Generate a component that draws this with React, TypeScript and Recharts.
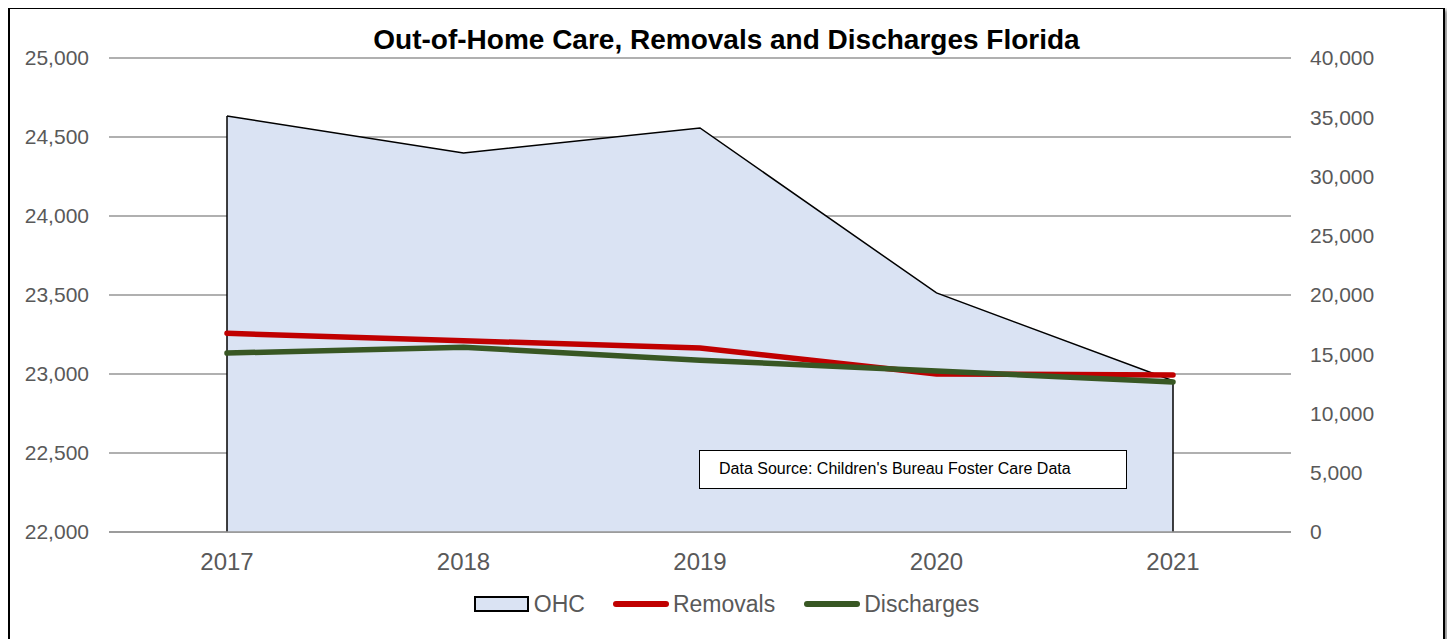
import {
  ComposedChart,
  Area,
  Line,
  XAxis,
  YAxis,
  CartesianGrid,
  ReferenceLine,
  Legend,
} from "recharts";

const years = ["2017", "2018", "2019", "2020", "2021"];
const ohc = [24633, 24399, 24557, 23513, 22957];
const removals = [16770, 16140, 15530, 13330, 13250];
const discharges = [15100, 15590, 14500, 13590, 12660];

const leftTicks = [22000, 22500, 23000, 23500, 24000, 24500, 25000];
const rightTicks = [0, 5000, 10000, 15000, 20000, 25000, 30000, 35000, 40000];

const data = years.map((year, i) => ({
  year,
  OHC: ohc[i],
  Removals: removals[i],
  Discharges: discharges[i],
}));

const FONT = "'Liberation Sans', Arial, sans-serif";
const GREY_TEXT = "#595959";
const OHC_FILL = "#DAE3F3";
const RED = "#C00000";
const GREEN = "#385723";

const fmt = (v: number) => v.toLocaleString("en-US");

const ChartLegend = () => (
  <div
    style={{
      display: "flex",
      alignItems: "center",
      justifyContent: "center",
      fontFamily: FONT,
      fontSize: 23,
      color: GREY_TEXT,
      height: 28,
    }}
  >
    <svg width={56} height={18} style={{ marginRight: 4 }}>
      <rect x={1} y={2} width={53} height={14} fill={OHC_FILL} stroke="#000" strokeWidth={2} />
    </svg>
    <span style={{ marginRight: 27 }}>OHC</span>
    <svg width={58} height={18} style={{ marginRight: 3 }}>
      <line x1={4} y1={9} x2={54} y2={9} stroke={RED} strokeWidth={6} strokeLinecap="round" />
    </svg>
    <span style={{ marginRight: 28 }}>Removals</span>
    <svg width={58} height={18} style={{ marginRight: 3 }}>
      <line x1={4} y1={9} x2={54} y2={9} stroke={GREEN} strokeWidth={6} strokeLinecap="round" />
    </svg>
    <span>Discharges</span>
  </div>
);

const App = () => {
  return (
    <div
      style={{
        position: "relative",
        width: 1433,
        height: 630,
        border: "2px solid #000",
        boxShadow: "3px 3px 4px rgba(0,0,0,0.45)",
        background: "#fff",
        marginTop: -1,
      }}
    >
      <div
        style={{
          position: "absolute",
          left: 0,
          top: 17,
          width: "100%",
          textAlign: "center",
          fontFamily: FONT,
          fontWeight: "bold",
          fontSize: 28,
          lineHeight: "28px",
          color: "#000",
        }}
      >
        Out-of-Home Care, Removals and Discharges Florida
      </div>
      <ComposedChart
        width={1433}
        height={630}
        data={data}
        margin={{ top: 49, right: 0, bottom: 21, left: 0 }}
      >
        <CartesianGrid
          yAxisId="left"
          vertical={false}
          stroke="#969696"
          strokeWidth={1.5}
        />
        <XAxis
          dataKey="year"
          height={58}
          padding={{ left: 118, right: 118 }}
          tickLine={false}
          tickSize={0}
          tickMargin={21}
          axisLine={{ stroke: "#969696", strokeWidth: 1.5 }}
          tick={{ fill: GREY_TEXT, fontSize: 24, fontFamily: FONT }}
        />
        <YAxis
          yAxisId="left"
          orientation="left"
          width={99}
          domain={[leftTicks[0], leftTicks[leftTicks.length - 1]]}
          ticks={leftTicks}
          tickFormatter={fmt}
          axisLine={false}
          tickLine={false}
          tickSize={0}
          tickMargin={20}
          tick={{ fill: GREY_TEXT, fontSize: 21, fontFamily: FONT }}
        />
        <YAxis
          yAxisId="right"
          orientation="right"
          width={152}
          domain={[rightTicks[0], rightTicks[rightTicks.length - 1]]}
          ticks={rightTicks}
          tickFormatter={fmt}
          axisLine={false}
          tickLine={false}
          tickSize={0}
          tickMargin={19}
          tick={{ fill: GREY_TEXT, fontSize: 21, fontFamily: FONT, textAnchor: "start" }}
        />
        <Area
          yAxisId="left"
          type="linear"
          dataKey="OHC"
          fill={OHC_FILL}
          fillOpacity={1}
          stroke="#000"
          strokeWidth={1.5}
          baseValue={leftTicks[0]}
          isAnimationActive={false}
        />
        <ReferenceLine
          yAxisId="left"
          segment={[
            { x: years[0], y: leftTicks[0] },
            { x: years[0], y: ohc[0] },
          ]}
          stroke="#000"
          strokeWidth={1.5}
        />
        <ReferenceLine
          yAxisId="left"
          segment={[
            { x: years[years.length - 1], y: leftTicks[0] },
            { x: years[years.length - 1], y: ohc[ohc.length - 1] },
          ]}
          stroke="#000"
          strokeWidth={1.5}
        />
        <Line
          yAxisId="right"
          type="linear"
          dataKey="Removals"
          stroke={RED}
          strokeWidth={5.5}
          strokeLinecap="round"
          dot={false}
          activeDot={false}
          isAnimationActive={false}
        />
        <Line
          yAxisId="right"
          type="linear"
          dataKey="Discharges"
          stroke={GREEN}
          strokeWidth={5.5}
          strokeLinecap="round"
          dot={false}
          activeDot={false}
          isAnimationActive={false}
        />
        <Legend verticalAlign="bottom" content={() => <ChartLegend />} />
      </ComposedChart>
      <div
        style={{
          position: "absolute",
          left: 689,
          top: 441,
          width: 428,
          height: 39,
          boxSizing: "border-box",
          border: "1.5px solid #000",
          background: "#fff",
          fontFamily: FONT,
          fontSize: 16,
          lineHeight: "36px",
          paddingLeft: 19,
          color: "#000",
        }}
      >
        Data Source: Children's Bureau Foster Care Data
      </div>
    </div>
  );
};

export default App;
